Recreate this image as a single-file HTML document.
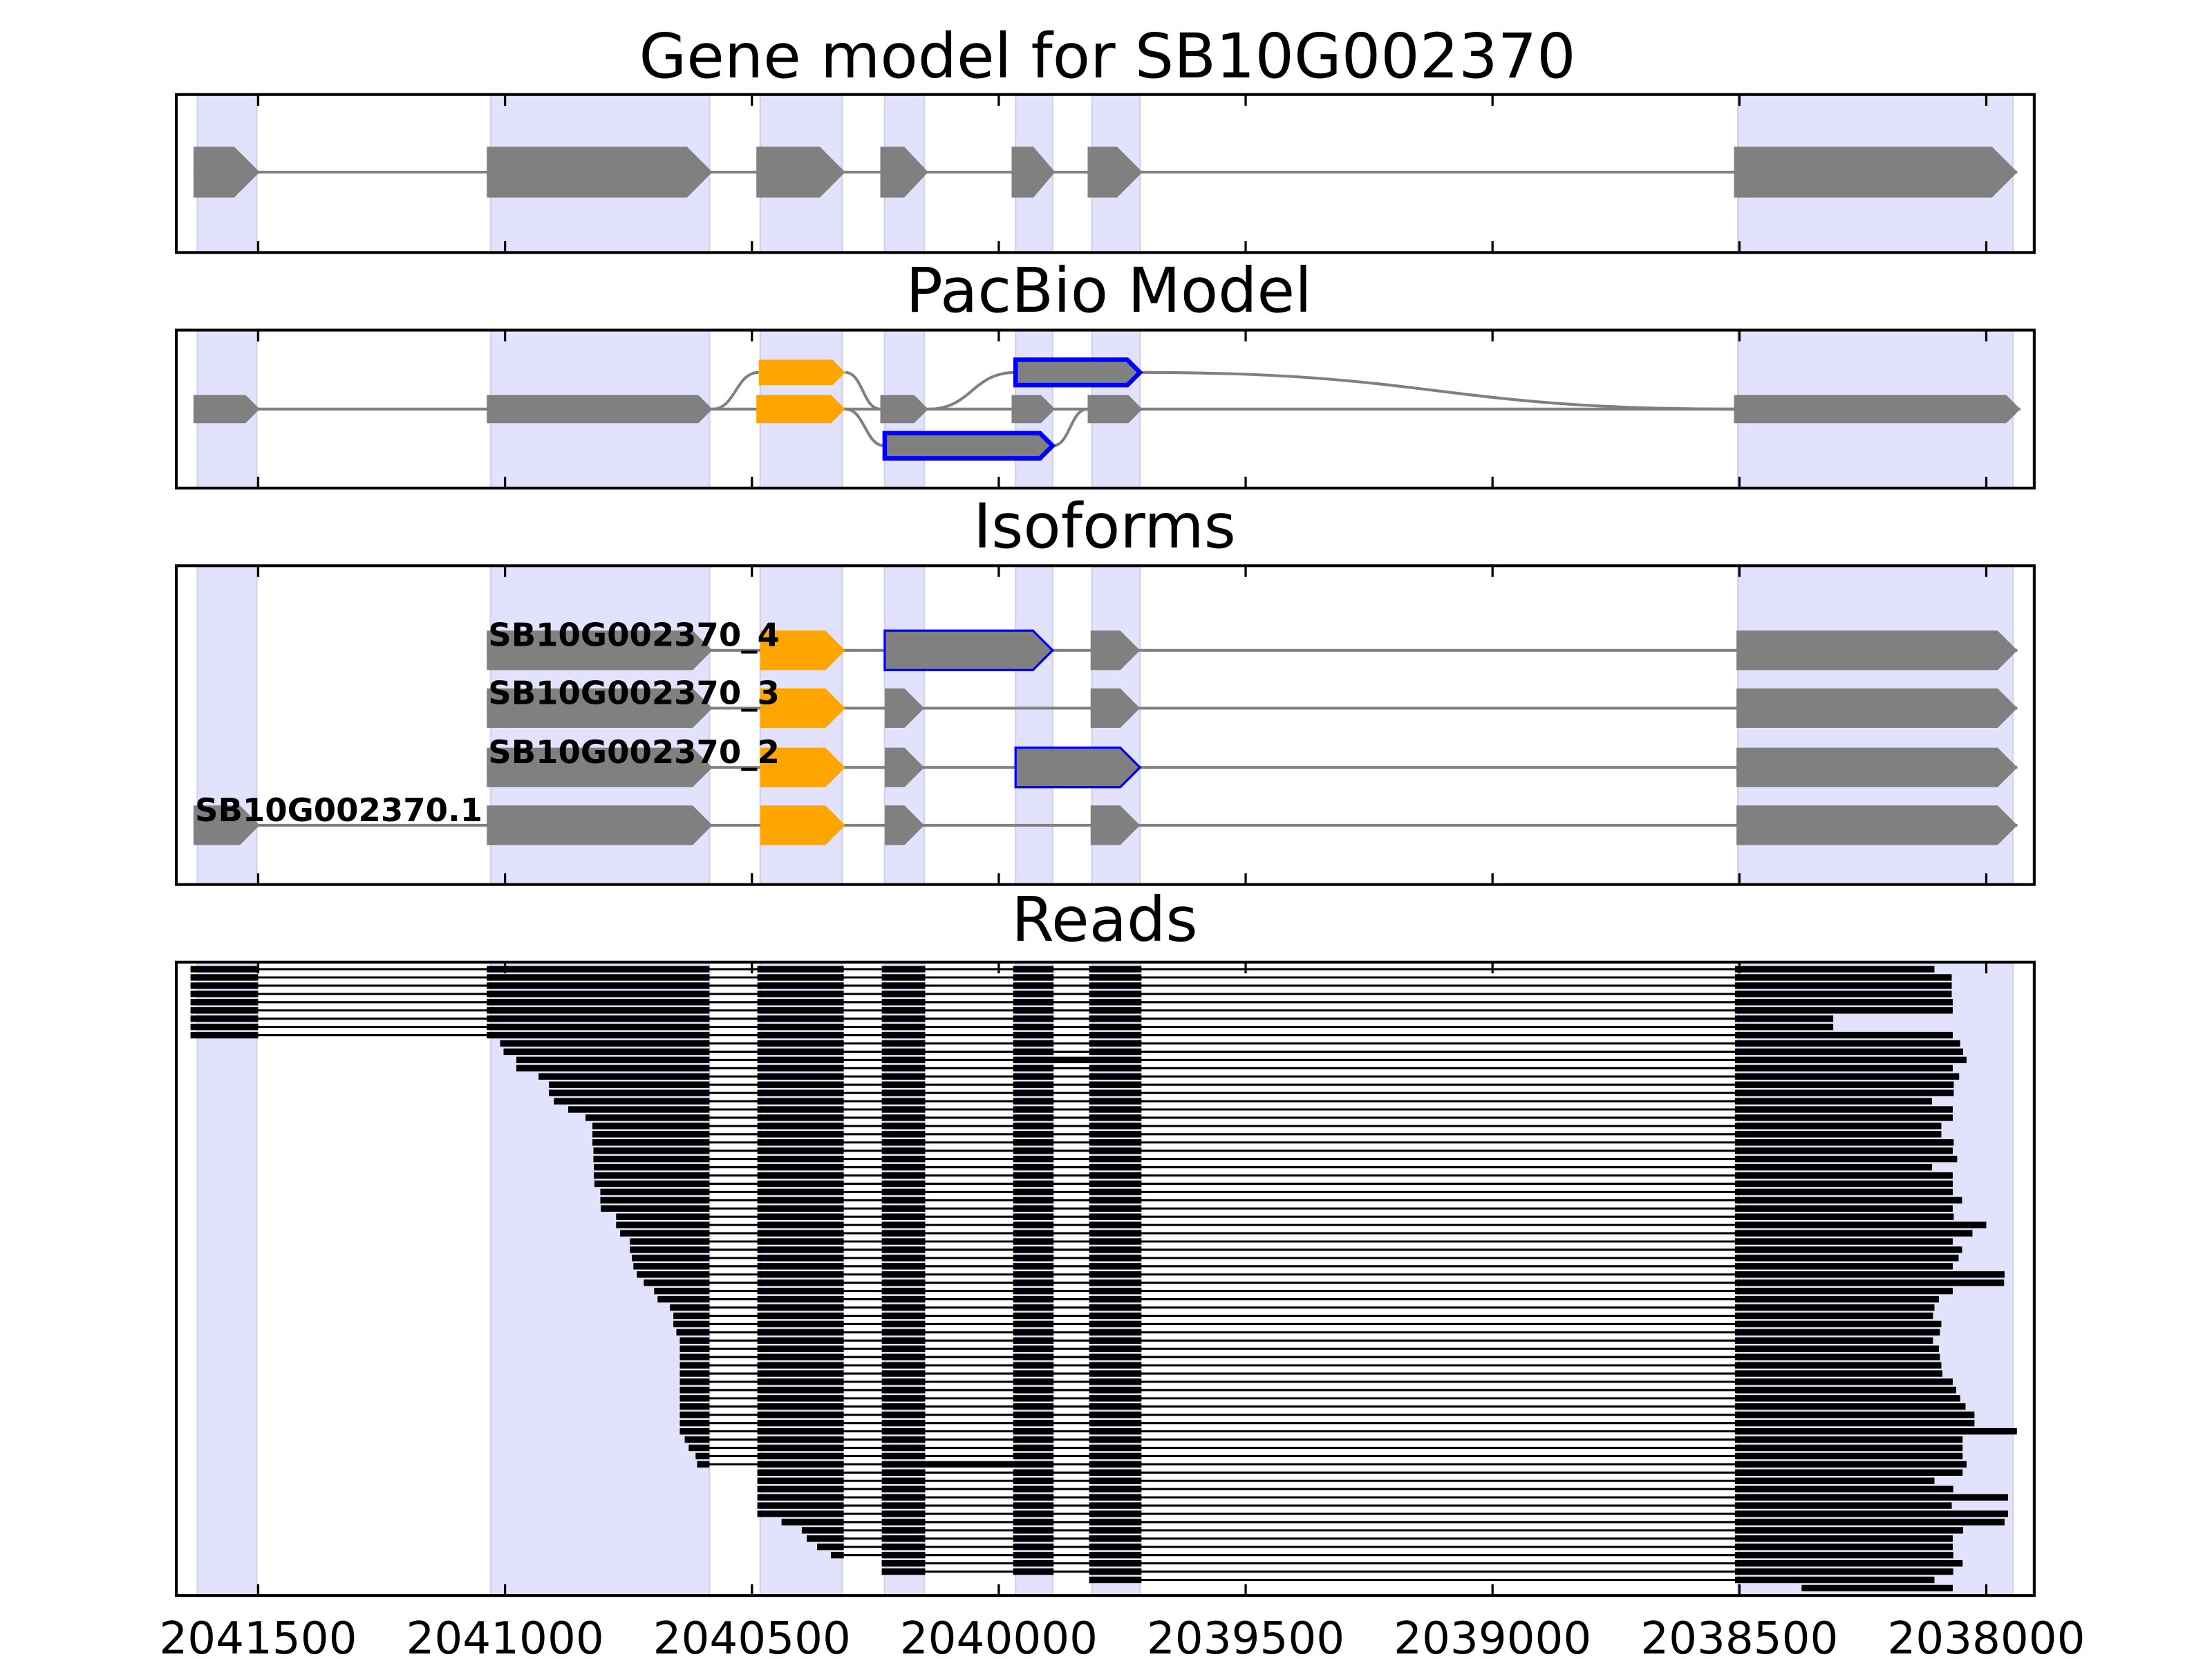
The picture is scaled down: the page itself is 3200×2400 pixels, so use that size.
<!DOCTYPE html>
<html><head><meta charset="utf-8"><style>
html,body{margin:0;padding:0;background:#fff;}
svg{display:block;font-family:"DejaVu Sans","Liberation Sans",sans-serif;}
</style></head><body>
<svg id="chart" width="3200" height="2400" viewBox="0 0 1568 1176" xmlns="http://www.w3.org/2000/svg">
<rect x="0" y="0" width="1568" height="1176" fill="#fff"/>
<text x="785" y="55" font-size="43.5" text-anchor="middle">Gene model for SB10G002370</text>
<text x="786" y="221" font-size="43.5" text-anchor="middle">PacBio Model</text>
<text x="783" y="388" font-size="43.5" text-anchor="middle">Isoforms</text>
<text x="783" y="667" font-size="43.5" text-anchor="middle">Reads</text>
</svg>
<script>
const tickValues=[2041500,2041000,2040500,2040000,2039500,2039000,2038500,2038000];
const tickLabels=["2041500","2041000","2040500","2040000","2039500","2039000","2038500","2038000"];
const shadeStart=[2041623,2041029,2040483,2040231,2039966,2039811,2038503];
const shadeEnd=[2041503,2040586,2040317,2040151,2039891,2039714,2037946];
const geneStart=[2041631,2041037,2040491,2040240,2039974,2039820,2038511];
const geneEnd=[2041497,2040580,2040311,2040143,2039886,2039709,2037937];
const pbMidStart=[2041631,2041037,2040491,2040240,2039974,2039820,2038511];
const pbMidEnd=[2041497,2040580,2040311,2040143,2039886,2039709,2037931];
const pbMidKind=["g","g","o","g","g","g","g"];
const pbUpStart=[2040486,2039966];
const pbUpEnd=[2040311,2039714];
const pbUpKind=["o","b"];
const pbLowStart=[2040231];
const pbLowEnd=[2039891];
const pbLowKind=["b"];
const isoNames=["SB10G002370_4","SB10G002370_3","SB10G002370_2","SB10G002370.1"];
const isoStarts=[[2041037,2040483,2040231,2039814,2038506],[2041037,2040483,2040231,2039814,2038506],[2041037,2040483,2040231,2039966,2038506],[2041631,2041037,2040483,2040231,2039814,2038506]];
const isoEnds=[[2040580,2040311,2039891,2039714,2037937],[2040580,2040311,2040151,2039714,2037937],[2040580,2040311,2040151,2039714,2037937],[2041497,2040580,2040311,2040151,2039714,2037937]];
const isoKinds=[["g","o","b","g","g"],["g","o","g","g","g"],["g","o","g","b","g"],["g","g","o","g","g","g"]];
const readStart=[2041637,2041637,2041637,2041637,2041637,2041637,2041637,2041637,2041637,
2041010,2041003,2040977,2040977,2040932,2040911,2040911,2040901,2040872,2040837,2040823,2040823,2040823,2040821,2040821,2040820,2040820,2040819,2040807,2040807,2040806,2040775,2040775,2040767,2040747,2040747,2040743,2040740,2040733,2040719,2040698,2040691,2040666,2040659,2040659,2040653,
2040646,2040646,2040646,2040646,2040646,2040646,2040646,2040646,2040646,2040646,2040646,2040646,2040636,2040628,2040614,2040611,
2040489,2040489,2040489,2040489,2040489,2040489,2040440,2040399,2040389,2040368,2040340,2040237,2040237,2039817,2038374];
const readEnd=[2038105,2038070,2038070,2038070,2038068,2038068,2038310,2038310,2038068,2038053,2038047,2038040,2038068,2038055,2038066,2038066,2038110,2038068,2038068,2038091,2038091,2038066,2038068,2038059,2038110,2038068,2038068,2038068,2038049,2038068,2038066,2038000,2038028,2038068,2038049,2038056,2038068,2037963,2037964,2038068,2038096,2038105,2038108,2038091,2038094,2038108,2038096,2038094,2038091,2038089,2038068,2038061,2038053,2038042,2038024,2038024,2037938,2038048,2038048,2038048,2038040,2038048,2038105,2038067,2037956,2038070,2037956,2037963,2038047,2038068,2038068,2038067,2038048,2038067,2038105,2038068];
const readExonStart=[2041637,2041037,2040489,2040237,2039971,2039817,2038509];
const readExonEnd=[2041500,2040586,2040314,2040149,2039889,2039711,2037900];
const retainedRow=[11,60];
const retainedFrom=[2039889,2040149];
const retainedTo=[2039817,2039971];

const NS="http://www.w3.org/2000/svg";
const svg=document.getElementById('chart');
const AX_L=125, AX_R=1442;
function xs(v){return 183+(2041500-v)*0.35;}
function mk(tag,attrs,parent){const e=document.createElementNS(NS,tag);for(const k in attrs)e.setAttribute(k,attrs[k]);(parent||svg).appendChild(e);return e;}
const panels=[{top:67,bot:179,name:'gene-model'},{top:234,bot:346,name:'pacbio'},{top:401,bot:627,name:'isoforms'},{top:682,bot:1131,name:'reads'}];
const layers=panels.map(p=>{const g=mk('g',{});return g;});
panels.forEach((p,pi)=>{
  for(let i=0;i<shadeStart.length;i++){
    const a=xs(shadeStart[i]),b=xs(shadeEnd[i]);
    const r=mk('rect',{x:a,y:p.top,width:b-a,height:p.bot-p.top,fill:'#e2e2fd',stroke:'#d3d3ee','stroke-width':1.2},layers[pi]);
    
    
  }
});
const COL={g:'#808080',o:'#ffa500',b:'#808080'};
function pent(g,s,e,yc,h,kind,sw){
  const x1=xs(s),x2=xs(e);const t=Math.min(h/2,(x2-x1)/2);
  const pts=[[x1,yc-h/2],[x2-t,yc-h/2],[x2,yc],[x2-t,yc+h/2],[x1,yc+h/2]].map(p=>p.join(',')).join(' ');
  const el=mk('polygon',{points:pts,fill:COL[kind],stroke:kind==='b'?'#0000ff':'none','stroke-width':kind==='b'?sw:0},g);
  
  
}
function line(g,x1,y1,x2,y2,w,c){return mk('line',{x1:x1,y1:y1,x2:x2,y2:y2,stroke:c||'#808080','stroke-width':w||2},g);}
line(layers[0],xs(geneStart[0]),122,xs(geneEnd[6]),122,2);
for(let i=0;i<geneStart.length;i++)pent(layers[0],geneStart[i],geneEnd[i],122,36,'g',0);
{
  const g=layers[1];
  line(g,xs(pbMidStart[0]),290,xs(pbMidEnd[6]),290,2);
  function curve(x1,y1,x2,y2){const m=(x1+x2)/2;const p=mk('path',{d:`M${x1},${y1} C${m},${y1} ${m},${y2} ${x2},${y2}`,fill:'none',stroke:'#808080','stroke-width':2},g);}
  curve(xs(pbMidEnd[1]),290,xs(pbUpStart[0]),264);
  curve(xs(pbUpEnd[0]),264,xs(pbMidStart[3]),290);
  curve(xs(pbMidEnd[2]),290,xs(pbLowStart[0]),316);
  curve(xs(pbMidEnd[3]),290,xs(pbUpStart[1]),264);
  curve(xs(pbLowEnd[0]),316,xs(pbMidStart[5]),290);
  curve(xs(pbUpEnd[1]),264,xs(pbMidStart[6]),290);
  for(let i=0;i<pbMidStart.length;i++)pent(g,pbMidStart[i],pbMidEnd[i],290,20,pbMidKind[i],3);
  for(let i=0;i<pbUpStart.length;i++)pent(g,pbUpStart[i],pbUpEnd[i],264,18,pbUpKind[i],3.2);
  for(let i=0;i<pbLowStart.length;i++)pent(g,pbLowStart[i],pbLowEnd[i],316,18,pbLowKind[i],3.2);
}
const isoY=[461,502,544,585];
for(let r=0;r<isoNames.length;r++){
  const g=layers[2];const y=isoY[r];const s=isoStarts[r],e=isoEnds[r];
  line(g,xs(s[0]),y,xs(e[e.length-1]),y,2);
  for(let i=0;i<s.length;i++)pent(g,s[i],e[i],y,28,isoKinds[r][i],1.6);
  const t=mk('text',{x:xs(s[0])+1,y:y-3,'font-size':22.8,'font-weight':'bold',fill:'#000'},g);
  t.textContent=isoNames[r];
  
  
}
for(let i=0;i<readStart.length;i++){
  const g=layers[3];const y=687+i*5.85;const s=readStart[i],e=readEnd[i];
  const ln=line(g,xs(s),y,xs(e),y,1.5,'#000');
  
  
  for(let k=0;k<readExonStart.length;k++){
    const a=Math.min(s,readExonStart[k]),b=Math.max(e,readExonEnd[k]);
    if(a<=b)continue;
    const x1=xs(a),x2=xs(b);
    const r=mk('rect',{x:x1,y:y-2.3,width:x2-x1,height:4.6,fill:'#000'},g);
    
    
  }
  const ri=retainedRow.indexOf(i);
  if(ri>=0){const x1=xs(retainedFrom[ri]),x2=xs(retainedTo[ri]);
    const r=mk('rect',{x:x1,y:y-2.3,width:x2-x1,height:4.6,fill:'#000'},g);
    
    }
}
panels.forEach((p,pi)=>{
  const f=mk('rect',{x:AX_L,y:p.top,width:AX_R-AX_L,height:p.bot-p.top,fill:'none',stroke:'#000','stroke-width':2});
  
  
  tickValues.forEach(v=>{const x=xs(v);
    const t1=line(svg,x,p.bot,x,p.bot-8,1.6,'#000');
    const t2=line(svg,x,p.top,x,p.top+8,1.6,'#000');});
});
tickValues.forEach((v,i)=>{
  const t=mk('text',{x:xs(v),y:1172,'font-size':31.5,'text-anchor':'middle',fill:'#000'});
  t.textContent=tickLabels[i];
  
  
});
</script>
</body></html>
